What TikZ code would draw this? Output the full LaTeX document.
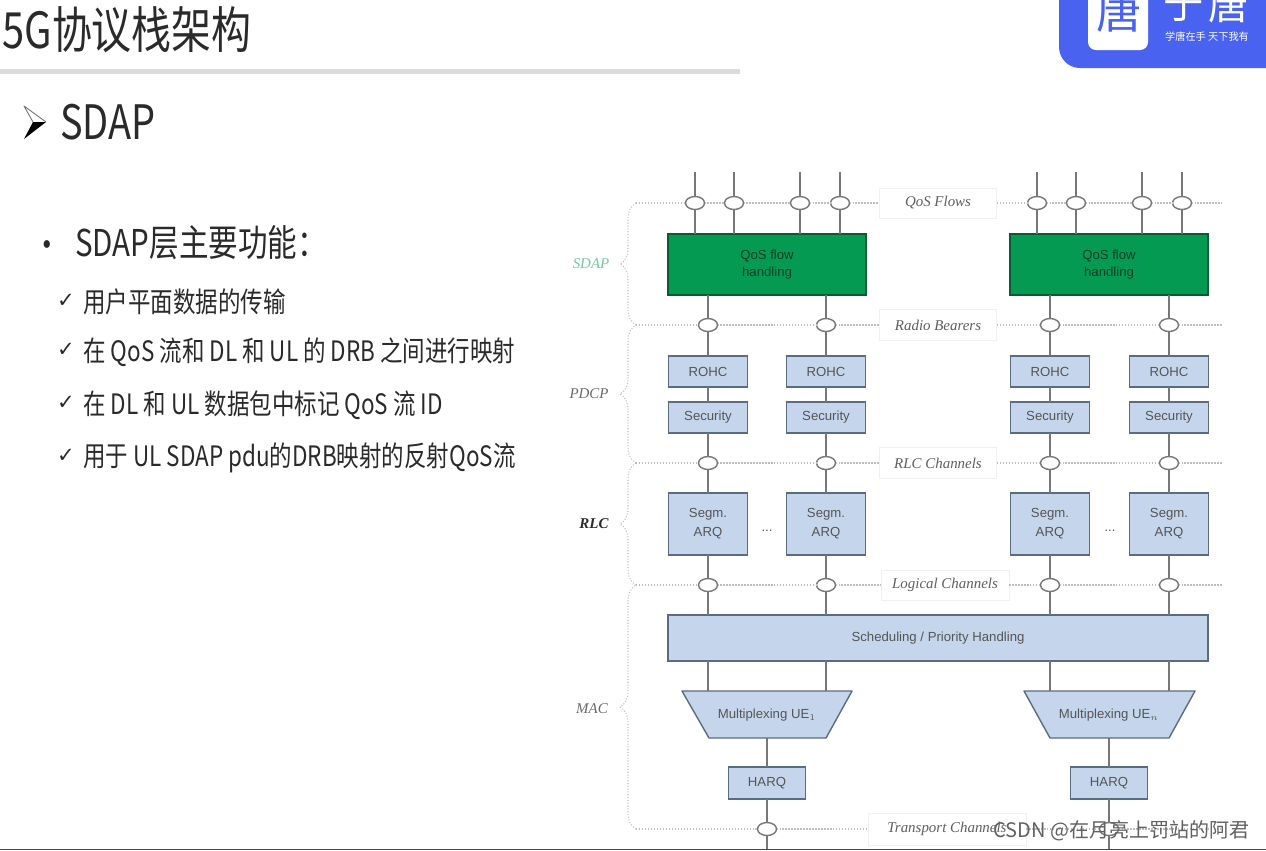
\documentclass[tikz,border=0pt]{standalone}
\usepackage{fontspec}
\setmainfont{Liberation Sans}
\newfontfamily\cjk[FakeStretch=0.8]{Noto Sans CJK SC}
\newfontfamily\cjkplain{Noto Sans CJK SC}
\newfontfamily\labelfont{Liberation Serif}
\newfontfamily\tickfont{DejaVu Sans}
\usetikzlibrary{positioning,shapes.geometric,decorations.pathreplacing}
\definecolor{logoblue}{HTML}{4A62F0}
\definecolor{greenfill}{HTML}{059A52}
\definecolor{greenedge}{HTML}{0B5A33}
\definecolor{bluefill}{HTML}{C5D6EC}
\definecolor{blueedge}{HTML}{5C6C80}
\definecolor{linegrey}{HTML}{777777}
\definecolor{dotgrey}{HTML}{BEBEBE}
\definecolor{inktext}{HTML}{2A2A2A}

\begin{document}
\begin{tikzpicture}[x=0.02cm,y=-0.02cm,
    title text/.style={anchor=west,inner sep=0pt,text=inktext,font=\cjk\fontsize{28.4}{31}\selectfont},
    head text/.style={anchor=west,inner sep=0pt,text=inktext,font=\cjk\fontsize{21}{24}\selectfont},
    item text/.style={anchor=west,inner sep=0pt,text=inktext,font=\cjk\fontsize{16}{18}\selectfont},
    tick text/.style={anchor=center,inner sep=0pt,text=inktext,font=\tickfont\fontsize{12}{14}\selectfont},
    box text/.style={text=inktext!80,font=\fontsize{7.5}{9.5}\selectfont,align=center,inner sep=0pt,outer sep=0pt},
    blue box/.style={box text,rectangle,draw=blueedge,fill=bluefill,line width=0.8pt},
    small box/.style={blue box,minimum width=1.58cm,minimum height=0.62cm},
    segm box/.style={blue box,minimum width=1.58cm,minimum height=1.24cm},
    harq box/.style={blue box,minimum width=1.54cm,minimum height=0.64cm},
    mux box/.style={box text,inner sep=0pt},
    green box/.style={box text,rectangle,draw=greenedge,fill=greenfill,text=greenedge!70!black,line width=0.9pt,minimum width=3.96cm,minimum height=1.22cm},
    chan node/.style={ellipse,draw=linegrey,fill=white,line width=0.8pt,minimum width=0.38cm,minimum height=0.26cm,inner sep=0pt,outer sep=0pt},
    chan label/.style={rectangle,draw=black!6,fill=white,inner sep=0pt,text=inktext!75,font=\labelfont\itshape\fontsize{8.5}{10}\selectfont},
    layer label/.style={inner sep=0pt,text=inktext!70,font=\labelfont\itshape\fontsize{8.5}{10}\selectfont},
    wire/.style={draw=linegrey,line width=0.8pt},
    dot wire/.style={draw=dotgrey,densely dotted,line width=0.7pt},
    layer brace/.style={draw=dotgrey,densely dotted,line width=0.6pt,decorate,decoration={brace,amplitude=0.32cm}}
  ]
  \useasboundingbox (0,0) rectangle (1266,850);

  % header
  \node[title text] (title) at (2,30) {5G协议栈架构};
  \fill[black!14] (0,69) rectangle (740,74);
  \begin{scope}
    \clip (1040,0) rectangle (1266,80);
    \fill[logoblue] (1059,0) [rounded corners=0.42cm] -- (1059,68) [sharp corners] -- (1266,68) -- (1266,0) -- cycle;
    \fill[white] (1088,0) [rounded corners=0.16cm] -- (1088,50) -- (1148,50) [sharp corners] -- (1148,0) -- cycle;
    \node[inner sep=0pt,text=logoblue,font=\cjkplain\fontsize{26}{28}\selectfont] (logo1) at (1119,11) {唐};
    \node[inner sep=0pt,text=white,font=\cjkplain\fontsize{23}{25}\selectfont] (logo2) at (1184,4) {于};
    \node[inner sep=0pt,text=white,font=\cjkplain\fontsize{23}{25}\selectfont] (logo3) at (1229,4) {唐};
    \node[inner sep=0pt,text=white,font=\cjkplain\fontsize{5.8}{6.5}\selectfont] (logo4) at (1207,37) {学唐在手 天下我有};
  \end{scope}

  % left column
  \fill[black] (46,122) -- (33,122) -- (24,139) -- cycle;
  \draw[black!55,line width=0.5pt,line join=round] (46,122) -- (24,106) -- (33,122);
  \node[title text,font=\cjk\fontsize{27}{30}\selectfont] (sdap) at (60,122) {SDAP};
  \node[head text] (dot) at (32,250) {•};
  \node[head text] (head) at (75,243) {SDAP层主要功能：};
  \node[tick text] (t1) at (66,301) {✓};
  \node[tick text] (t2) at (66,350) {✓};
  \node[tick text] (t3) at (66,403) {✓};
  \node[tick text] (t4) at (66,456) {✓};
  \node[item text] (i1) at (83,302) {用户平面数据的传输};
  \node[item text] (i2) at (83,352) {在 QoS 流和 DL 和 UL 的 DRB 之间进行映射};
  \node[item text] (i3) at (83,405) {在 DL 和 UL 数据包中标记 QoS 流 ID};
  \node[item text] (i4) at (83,458) {用于 UL SDAP pdu的DRB映射的反射QoS流};

  % channel ends
  \coordinate (l1) at (636,203);
  \coordinate (l2) at (636,325);
  \coordinate (l3) at (636,463);
  \coordinate (l4) at (636,585);
  \coordinate (l5) at (636,829);
  \coordinate (r1) at (1222,203);
  \coordinate (r2) at (1222,325);
  \coordinate (r3) at (1222,463);
  \coordinate (r4) at (1222,585);
  \coordinate (r5) at (1222,829);
  \coordinate (top1) at (695,172);
  \coordinate (top2) at (734,172);
  \coordinate (top3) at (800,172);
  \coordinate (top4) at (840,172);
  \coordinate (top5) at (1037,172);
  \coordinate (top6) at (1076,172);
  \coordinate (top7) at (1142,172);
  \coordinate (top8) at (1182,172);
  \coordinate (bot1) at (767,850);
  \coordinate (bot2) at (1109,850);

  % channel labels
  \node[chan label,minimum width=2.34cm,minimum height=0.6cm] (qos) at (938,203) {QoS Flows};
  \node[chan label,minimum width=2.34cm,minimum height=0.62cm] (radio) at (938,325) {Radio Bearers};
  \node[chan label,minimum width=2.34cm,minimum height=0.62cm] (rlcch) at (938,463) {RLC Channels};
  \node[chan label,minimum width=2.56cm,minimum height=0.6cm] (logic) at (945,585) {Logical Channels};
  \node[chan label,minimum width=3.16cm,minimum height=0.64cm] (trans) at (947,829) {Transport Channels};

  % ovals
  \node[chan node] (q1) at (695,203) {};
  \node[chan node] (q2) at (734,203) {};
  \node[chan node] (q3) at (800,203) {};
  \node[chan node] (q4) at (840,203) {};
  \node[chan node] (q5) at (1037,203) {};
  \node[chan node] (q6) at (1076,203) {};
  \node[chan node] (q7) at (1142,203) {};
  \node[chan node] (q8) at (1182,203) {};
  \node[chan node] (b1) at (708,325) {};
  \node[chan node] (b2) at (826,325) {};
  \node[chan node] (b3) at (1050,325) {};
  \node[chan node] (b4) at (1169,325) {};
  \node[chan node] (c1) at (708,463) {};
  \node[chan node] (c2) at (826,463) {};
  \node[chan node] (c3) at (1050,463) {};
  \node[chan node] (c4) at (1169,463) {};
  \node[chan node] (g1) at (708,585) {};
  \node[chan node] (g2) at (826,585) {};
  \node[chan node] (g3) at (1050,585) {};
  \node[chan node] (g4) at (1169,585) {};
  \node[chan node] (p1) at (767,829) {};
  \node[chan node] (p2) at (1109,829) {};

  % boxes
  \node[green box] (qf1) at (767,264.5) {QoS flow\\handling};
  \node[green box] (qf2) at (1109,264.5) {QoS flow\\handling};
  \node[small box] (ro1) at (708,371.5) {ROHC};
  \node[small box] (ro2) at (826,371.5) {ROHC};
  \node[small box] (ro3) at (1050,371.5) {ROHC};
  \node[small box] (ro4) at (1169,371.5) {ROHC};
  \node[small box] (se1) at (708,417.5) {Security};
  \node[small box] (se2) at (826,417.5) {Security};
  \node[small box] (se3) at (1050,417.5) {Security};
  \node[small box] (se4) at (1169,417.5) {Security};
  \node[segm box] (ar1) at (708,524) {Segm.\\[1.2pt]ARQ};
  \node[segm box] (ar2) at (826,524) {Segm.\\[1.2pt]ARQ};
  \node[segm box] (ar3) at (1050,524) {Segm.\\[1.2pt]ARQ};
  \node[segm box] (ar4) at (1169,524) {Segm.\\[1.2pt]ARQ};
  \node[box text] (more1) at (767,531) {...};
  \node[box text] (more2) at (1110,531) {...};
  \node[blue box,minimum width=10.8cm,minimum height=0.92cm] (sch) at (938,638) {Scheduling / Priority Handling};
  \fill[bluefill,draw=blueedge,line width=0.8pt,line join=round] (682,691) -- (852,691) -- (826,738) -- (709,738) -- cycle;
  \fill[bluefill,draw=blueedge,line width=0.8pt,line join=round] (1024,691) -- (1195,691) -- (1169,738) -- (1050,738) -- cycle;
  \node[mux box] (mx1) at (767,715) {Multiplexing UE$_1$};
  \node[mux box] (mx2) at (1109,715) {Multiplexing UE$_n$};
  \node[harq box] (hq1) at (767,783) {HARQ};
  \node[harq box] (hq2) at (1109,783) {HARQ};

  % anchors on the trapezoids
  \coordinate (mt1) at (708,691);
  \coordinate (mt2) at (826,691);
  \coordinate (mt3) at (1050,691);
  \coordinate (mt4) at (1169,691);
  \coordinate (mb1) at (767,738);
  \coordinate (mb2) at (1109,738);

  % dotted channel lines
  \path[dot wire]
    (l1) edge (q1) (q1) edge (q2) (q2) edge (q3) (q3) edge (q4) (q4) edge (qos)
    (qos) edge (q5) (q5) edge (q6) (q6) edge (q7) (q7) edge (q8) (q8) edge (r1)
    (l2) edge (b1) (b1) edge (b2) (b2) edge (radio) (radio) edge (b3) (b3) edge (b4) (b4) edge (r2)
    (l3) edge (c1) (c1) edge (c2) (c2) edge (rlcch) (rlcch) edge (c3) (c3) edge (c4) (c4) edge (r3)
    (l4) edge (g1) (g1) edge (g2) (g2) edge (logic) (logic) edge (g3) (g3) edge (g4) (g4) edge (r4)
    (l5) edge (p1) (p1) edge (trans) (trans) edge (p2) (p2) edge (r5);

  % layer braces
  \path[layer brace] (l2) -- (l1);
  \path[layer brace] (l3) -- (l2);
  \path[layer brace] (l4) -- (l3);
  \path[layer brace] (l5) -- (l4);
  \node[layer label,text=greenfill!55] (sdapl) at (591,264) {SDAP};
  \node[layer label] (pdcpl) at (589,394) {PDCP};
  \node[layer label,text=inktext,font=\labelfont\bfseries\itshape\fontsize{8.5}{10}\selectfont] (rlcl) at (594,524) {RLC};
  \node[layer label] (macl) at (592,709) {MAC};

  % wires
  \path[wire]
    (top1) edge (q1) (top2) edge (q2) (top3) edge (q3) (top4) edge (q4)
    (top5) edge (q5) (top6) edge (q6) (top7) edge (q7) (top8) edge (q8)
    (q1) edge (q1 |- qf1.north) (q2) edge (q2 |- qf1.north)
    (q3) edge (q3 |- qf1.north) (q4) edge (q4 |- qf1.north)
    (q5) edge (q5 |- qf2.north) (q6) edge (q6 |- qf2.north)
    (q7) edge (q7 |- qf2.north) (q8) edge (q8 |- qf2.north)
    (b1 |- qf1.south) edge (b1) (b2 |- qf1.south) edge (b2)
    (b3 |- qf2.south) edge (b3) (b4 |- qf2.south) edge (b4)
    (b1) edge (ro1) (b2) edge (ro2) (b3) edge (ro3) (b4) edge (ro4)
    (ro1) edge (se1) (ro2) edge (se2) (ro3) edge (se3) (ro4) edge (se4)
    (se1) edge (c1) (se2) edge (c2) (se3) edge (c3) (se4) edge (c4)
    (c1) edge (ar1) (c2) edge (ar2) (c3) edge (ar3) (c4) edge (ar4)
    (ar1) edge (g1) (ar2) edge (g2) (ar3) edge (g3) (ar4) edge (g4)
    (g1) edge (g1 |- sch.north) (g2) edge (g2 |- sch.north)
    (g3) edge (g3 |- sch.north) (g4) edge (g4 |- sch.north)
    (mt1 |- sch.south) edge (mt1) (mt2 |- sch.south) edge (mt2)
    (mt3 |- sch.south) edge (mt3) (mt4 |- sch.south) edge (mt4)
    (mb1) edge (hq1) (mb2) edge (hq2)
    (hq1) edge (p1) (hq2) edge (p2)
    (p1) edge (bot1) (p2) edge (bot2);

  % footer
  \fill[black!70] (0,849) rectangle (1266,850);
  \node[anchor=east,inner sep=0pt,text=black!62,font=\cjkplain\fontsize{11.4}{13}\selectfont] (mark) at (1250,831) {CSDN @在月亮上罚站的阿君};
\end{tikzpicture}
\end{document}
